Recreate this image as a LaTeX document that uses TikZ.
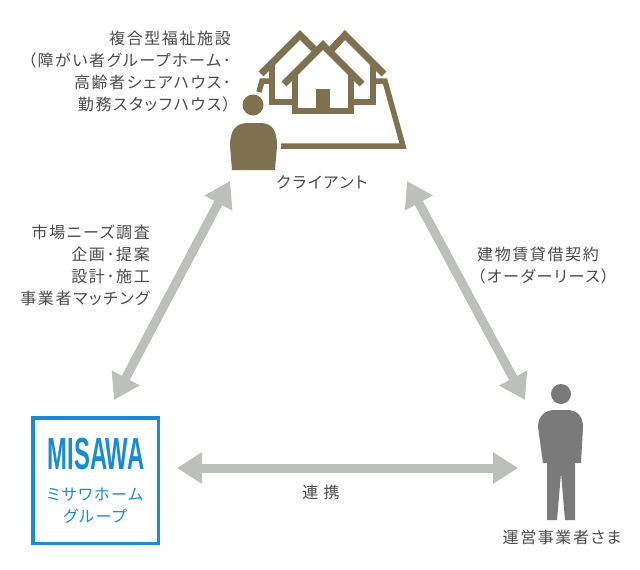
\documentclass[tikz,border=0pt]{standalone}
\usepackage{fontspec}
\setmainfont[LetterSpace=10,RawFeature=+palt]{Noto Sans CJK JP}
\newfontfamily\logofont{Liberation Sans}[Scale=1]
\usetikzlibrary{arrows.meta}
\definecolor{brownc}{HTML}{7F7050}
\definecolor{grayc}{HTML}{7A7A7A}
\definecolor{arrowc}{HTML}{BCBFBC}
\definecolor{bluec}{HTML}{1A8BCF}
\definecolor{textc}{HTML}{4A4A4A}
\tikzset{
  label/.style={text=textc, font=\fontsize{16}{22}\selectfont, inner sep=0pt},
  twoway/.style={draw=arrowc, line width=9pt, {Triangle[width=30pt,length=25pt]}-{Triangle[width=30pt,length=25pt]}, shorten <=0pt, shorten >=0pt},
  roof/.style={draw=brownc, line width=7pt, miter limit=10},
  wall/.style={draw=brownc, line width=5.5pt}
}
\begin{document}
\begin{tikzpicture}[x=1pt, y=-1pt]
\useasboundingbox (0,0) rectangle (640,570);

% house
\draw[wall] (272,63) -- (272,102) -- (293,102);
\draw[wall] (350,102) -- (373,102) -- (373,63);
\draw[roof] (261,74) -- (300,35) -- (315,50);
\draw[roof] (331,50) -- (345,35) -- (384,74);
\draw[wall] (259,92) -- (262,81) -- (273,81);
\draw[wall] (373,81) -- (385,81) -- (403,146) -- (281,146);
\draw[wall] (295,73) -- (295,111) -- (351,111) -- (351,73);
\draw[roof] (284,84) -- (323,45) -- (362,84);
\fill[brownc] (316,89) rectangle (330,110);

% client
\fill[brownc] (253,105) circle (10.5);
\fill[brownc] (232,170) -- (230,146) .. controls (230,130) and (236,123) .. (248,123)
  -- (260,123) .. controls (272,123) and (277,130) .. (277,146) -- (275,170) -- cycle;

% operator
\fill[grayc] (561,394) circle (10);
\fill[grayc] (543,463) -- (538,427) .. controls (538,416) and (545,410) .. (555,410)
  -- (567,410) .. controls (577,410) and (583,416) .. (583,427) -- (581,463)
  -- (575,463) -- (575,520) -- (565,520) -- (561,473) -- (557,520) -- (547,520)
  -- (547,463) -- cycle;

% logo
\node (logo) [draw=bluec, line width=3.5pt, minimum size=125.5pt, inner sep=0pt] at (95.5,480.5) {};
\node (misawa) [text=bluec, xscale=.53, inner sep=0pt, font=\logofont\fontsize{45}{45}\bfseries\selectfont] at (96,454) {MISAWA};
\node (group) [label, text=bluec, align=center] at (95,505.5) {ミサワホーム\\グループ};

% labels
\node (facility) [label, align=right, anchor=east] at (231,72) {複合型福祉施設\\（障がい者グループホーム･\\高齢者シェアハウス･\\勤務スタッフハウス）};
\node (client) [label] at (322,182) {クライアント};
\node (service) [label, align=right, anchor=east] at (150,265.5) {市場ニーズ調査\\企画･提案\\設計･施工\\事業者マッチング};
\node (lease) [label, align=left, anchor=west] at (477,265.5) {建物賃貸借契約\\（オーダーリース）};
\node (link) [label] at (321,492) {連 携};
\node (operator) [label] at (562,537) {運営事業者さま};

% arrows
\coordinate (a1) at (230,181);
\coordinate (a2) at (114,400);
\coordinate (b1) at (407,181);
\coordinate (b2) at (525,400);
\coordinate (c1) at (177,468);
\coordinate (c2) at (518,468);
\draw[twoway] (a1) -- (a2);
\draw[twoway] (b1) -- (b2);
\draw[twoway] (c1) -- (c2);
\end{tikzpicture}
\end{document}
